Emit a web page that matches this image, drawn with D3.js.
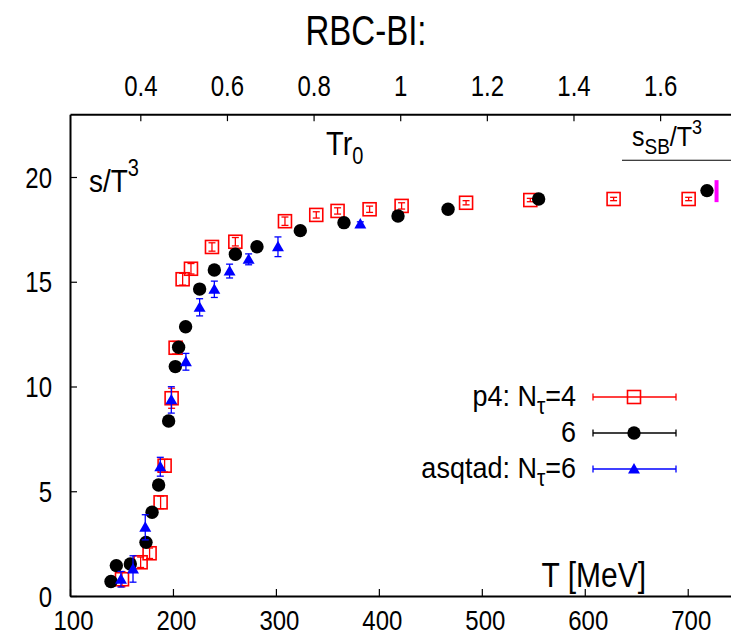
<!DOCTYPE html>
<html>
<head>
<meta charset="utf-8">
<script src="https://cdn.jsdelivr.net/npm/d3@7"></script>
<style>
  body { margin: 0; background: #fff; }
  svg { display: block; font-family: "Liberation Sans", Arial, Helvetica, sans-serif; }
</style>
</head>
<body>
<svg id="chart" width="731" height="638"></svg>
<script>
// ---- data ----
const p4Nt4T   = [150.5, 168.6, 177.3, 188.0, 191.9, 198.7, 202.6, 209.4, 217.5, 237.9, 260.6, 308.8, 339.2, 359.9, 391.0, 422.1, 484.7, 547.1, 628.0, 700.9];
const p4Nt4S   = [0.80, 1.61, 2.04, 4.47, 6.22, 9.44, 11.85, 15.12, 15.62, 16.66, 16.91, 17.89, 18.19, 18.38, 18.46, 18.62, 18.77, 18.90, 18.95, 18.95];
const p4Nt4Err = [0.36, 0.25, 0.25, 0.3, 0.3, 0.48, 0.3, 0.28, 0.25, 0.2, 0.2, 0.2, 0.15, 0.15, 0.15, 0.15, 0.1, 0.08, 0.08, 0.08];

const p4Nt6T   = [139.8, 145.0, 158.6, 173.8, 179.7, 186.1, 195.8, 202.3, 205.5, 212.3, 225.9, 240.2, 260.6, 281.6, 323.7, 366.1, 418.6, 467.2, 555.2, 718.7];
const p4Nt6S   = [0.69, 1.45, 1.53, 2.56, 4.00, 5.30, 8.35, 10.95, 11.87, 12.85, 14.65, 15.56, 16.31, 16.67, 17.44, 17.82, 18.14, 18.46, 18.95, 19.35];

const asqT     = [149.5, 161.2, 173.1, 187.7, 198.4, 212.6, 225.9, 240.2, 255.0, 273.5, 302.0, 382.0];
const asqS     = [0.80, 1.29, 3.28, 6.17, 9.36, 11.18, 13.78, 14.64, 15.51, 16.07, 16.67, 17.76];
const asqErr   = [0.37, 0.63, 0.6, 0.45, 0.63, 0.4, 0.41, 0.39, 0.33, 0.26, 0.47, 0.1];

const xTicks   = [100, 200, 300, 400, 500, 600, 700];
const yTicks   = [0, 5, 10, 15, 20];
const topTicks = [0.4, 0.6, 0.8, 1, 1.2, 1.4, 1.6];
const sbContinuum = 20.8;
const sbLatticeT = 728;
const sbLatticeRange = [18.8, 19.85];
const r0OverHbarC = 0.469 / 197.327; // Tr0 = T * r0 / (hbar c)

// ---- layout ----
const svg = d3.select("#chart");
const x = d3.scaleLinear().domain([100, 750]).range([70, 739.2]);
const y = d3.scaleLinear().domain([0, 23]).range([596, 114.15]);
const xTop = d3.scaleLinear().domain([100 * r0OverHbarC, 750 * r0OverHbarC]).range([70, 739.2]);

const RED = "#ff0000", BLUE = "#0000ff", BLACK = "#000000", MAG = "#ff00ff";
const SY = 1.22; // vertical stretch of the reference lettering

function label(px, py, size, anchor, sy) {
  return svg.append("text")
    .attr("transform", `translate(${px},${py}) scale(1,${sy})`)
    .attr("text-anchor", anchor).attr("font-size", size).attr("fill", BLACK);
}

// title
label(366, 45, 33, "middle", 1.3).text("RBC-BI:");

// axes
const tickFont = 24;
const gB = svg.append("g").attr("transform", `translate(0,${y(0)})`)
  .call(d3.axisBottom(x).tickValues(xTicks).tickSizeInner(-7).tickSizeOuter(0).tickFormat(d3.format("d")));
const gL = svg.append("g").attr("transform", `translate(${x(100)},0)`)
  .call(d3.axisLeft(y).tickValues(yTicks).tickSizeInner(-7).tickSizeOuter(0).tickFormat(d3.format("d")));
const gT = svg.append("g").attr("transform", `translate(0,${y(23)})`)
  .call(d3.axisTop(xTop).tickValues(topTicks).tickSizeInner(-7).tickSizeOuter(0).tickFormat(d => d3.format("")(d)));
[gB, gL, gT].forEach(g => {
  g.selectAll("path.domain").attr("stroke", BLACK).attr("stroke-width", 2);
  g.selectAll(".tick line").attr("stroke", BLACK).attr("stroke-width", 1.2);
  g.selectAll(".tick text").attr("font-size", tickFont).attr("fill", BLACK)
    .attr("font-family", "'Liberation Sans', Arial, sans-serif")
    .attr("x", 0).attr("y", 0).attr("dy", null);
});
gB.selectAll(".tick text").attr("transform", `translate(3,34) scale(1,1.15)`);
gL.selectAll(".tick text").attr("transform", `translate(-18,10) scale(1,${SY})`);
gT.selectAll(".tick text").attr("transform", `translate(0,-18) scale(1,${SY})`);

// axis labels
const sT = label(89, 192, 28, "start", 1.15);
sT.append("tspan").text("s/T");
sT.append("tspan").attr("dy", -14).attr("font-size", 20).text("3");

const tr = label(326, 155, 29, "start", 1.15);
tr.append("tspan").text("Tr");
tr.append("tspan").attr("dy", 8).attr("font-size", 20).text("0");

label(646, 587, 30, "end", 1.15).text("T [MeV]");

const sb = label(632, 146, 25, "start", 1.12);
sb.append("tspan").text("s");
sb.append("tspan").attr("dy", 7).attr("font-size", 19).text("SB");
sb.append("tspan").attr("dy", -7).text("/T");
sb.append("tspan").attr("dy", -11).attr("font-size", 18).text("3");
svg.append("line").attr("x1", 622).attr("x2", x(750))
  .attr("y1", y(sbContinuum)).attr("y2", y(sbContinuum))
  .attr("stroke", BLACK).attr("stroke-width", 1.2);

// lattice SB bar
svg.append("line").attr("x1", x(sbLatticeT)).attr("x2", x(sbLatticeT))
  .attr("y1", y(sbLatticeRange[0])).attr("y2", y(sbLatticeRange[1]))
  .attr("stroke", MAG).attr("stroke-width", 4);

// helpers
function errBar(g, xv, yv, e, color, cap) {
  g.append("line").attr("x1", x(xv)).attr("x2", x(xv)).attr("y1", y(yv - e)).attr("y2", y(yv + e))
    .attr("stroke", color).attr("stroke-width", 1.3);
  [yv - e, yv + e].forEach(v => g.append("line")
    .attr("x1", x(xv) - cap).attr("x2", x(xv) + cap).attr("y1", y(v)).attr("y2", y(v))
    .attr("stroke", color).attr("stroke-width", 1.3));
}
const triPath = d3.symbol().type(d3.symbolTriangle).size(62)();

// p4 Nt=4 (open red squares)
const g4 = svg.append("g");
p4Nt4T.forEach((t, i) => {
  errBar(g4, t, p4Nt4S[i], p4Nt4Err[i], RED, 3.5);
  g4.append("rect").attr("x", x(t) - 6.5).attr("y", y(p4Nt4S[i]) - 6.5)
    .attr("width", 13).attr("height", 13).attr("fill", "none")
    .attr("stroke", RED).attr("stroke-width", 1.6);
});

// p4 Nt=6 (black circles)
const g6 = svg.append("g");
p4Nt6T.forEach((t, i) => {
  g6.append("circle").attr("cx", x(t)).attr("cy", y(p4Nt6S[i])).attr("r", 6.7).attr("fill", BLACK);
});

// asqtad Nt=6 (blue triangles)
const ga = svg.append("g");
asqT.forEach((t, i) => {
  errBar(ga, t, asqS[i], asqErr[i], BLUE, 3.5);
  ga.append("path").attr("d", triPath)
    .attr("transform", `translate(${x(t)},${y(asqS[i]) + 1})`).attr("fill", BLUE);
});

// legend
const legend = [
  { label: ["p4: N", "τ", "=4"], color: RED, kind: "square", yc: 397 },
  { label: ["6"], color: BLACK, kind: "circle", yc: 433 },
  { label: ["asqtad: N", "τ", "=6"], color: BLUE, kind: "triangle", yc: 469 }
];
const lg = svg.append("g");
legend.forEach(d => {
  const t = lg.append("text").attr("transform", `translate(576,${d.yc + 9}) scale(1,1.12)`)
    .attr("text-anchor", "end").attr("font-size", 27);
  t.append("tspan").text(d.label[0]);
  if (d.label.length > 1) {
    t.append("tspan").attr("dy", 7).attr("font-size", 21).text(d.label[1]);
    t.append("tspan").attr("dy", -7).text(d.label[2]);
  }
  const x1 = 593, x2 = 676, xm = 634;
  lg.append("line").attr("x1", x1).attr("x2", x2).attr("y1", d.yc).attr("y2", d.yc)
    .attr("stroke", d.color).attr("stroke-width", 1.3);
  [x1, x2].forEach(xx => lg.append("line").attr("x1", xx).attr("x2", xx)
    .attr("y1", d.yc - 3.5).attr("y2", d.yc + 3.5).attr("stroke", d.color).attr("stroke-width", 1.3));
  if (d.kind === "square") {
    lg.append("rect").attr("x", xm - 6.5).attr("y", d.yc - 6.5).attr("width", 13).attr("height", 13)
      .attr("fill", "none").attr("stroke", d.color).attr("stroke-width", 1.6);
  } else if (d.kind === "circle") {
    lg.append("circle").attr("cx", xm).attr("cy", d.yc).attr("r", 6.7).attr("fill", d.color);
  } else {
    lg.append("path").attr("d", triPath).attr("transform", `translate(${xm},${d.yc + 1})`).attr("fill", d.color);
  }
});
</script>
</body>
</html>
